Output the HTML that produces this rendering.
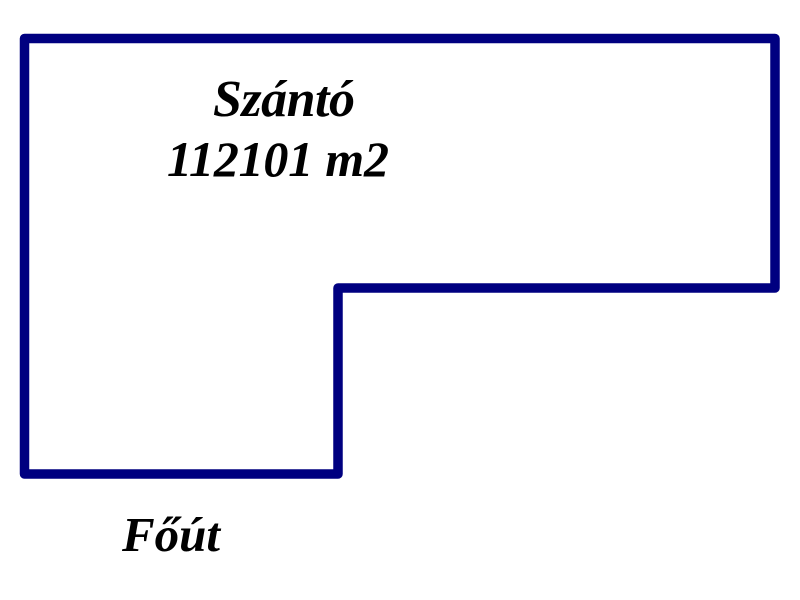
<!DOCTYPE html>
<html><head><meta charset="utf-8"><style>
html,body{margin:0;padding:0;background:#fff;width:800px;height:600px;overflow:hidden}
svg{position:absolute;left:0;top:0}
</style></head><body>
<svg width="800" height="600" viewBox="0 0 800 600">
<polygon points="24.5,38.5 775,38.5 775,288 338,288 338,474 24.5,474" fill="none" stroke="#000080" stroke-width="9.5" stroke-linejoin="round"/>
<g font-family="Liberation Serif, serif" font-weight="bold" font-style="italic" fill="#000">
<text x="284" y="116" text-anchor="middle" font-size="52" textLength="142">Szántó</text>
<text x="278" y="176" text-anchor="middle" font-size="50" textLength="222">112101 m2</text>
<text x="171" y="551" text-anchor="middle" font-size="49" textLength="98">Főút</text>
</g>
</svg>
</body></html>
